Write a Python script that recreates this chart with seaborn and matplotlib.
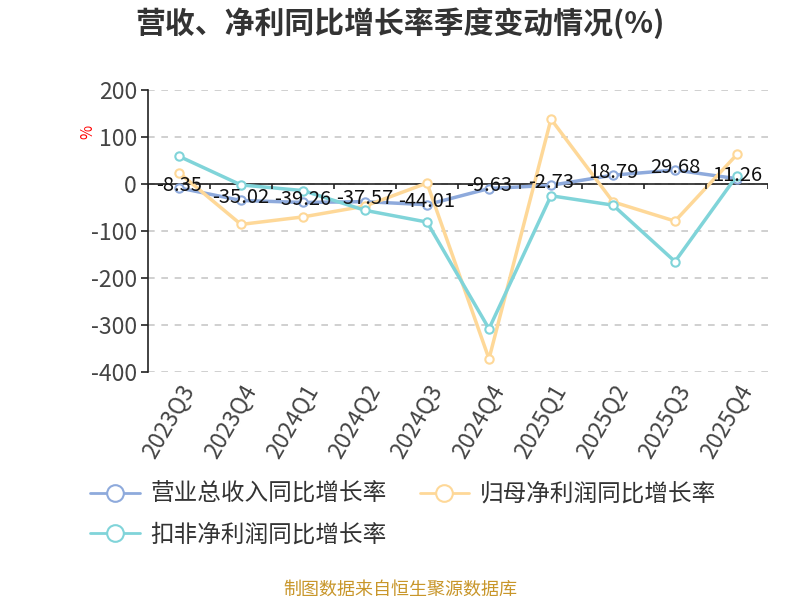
import numpy as np
import pandas as pd
import matplotlib
matplotlib.use('Agg')
import matplotlib.pyplot as plt
import seaborn as sbn
from matplotlib.lines import Line2D

sbn.set_style('white')
plt.rcParams['font.family'] = ['Noto Sans CJK SC', 'DejaVu Sans']
plt.rcParams['axes.unicode_minus'] = False

quarters = ['2023Q3', '2023Q4', '2024Q1', '2024Q2', '2024Q3',
            '2024Q4', '2025Q1', '2025Q2', '2025Q3', '2025Q4']
revenue = [-8.35, -35.02, -39.26, -37.57, -44.01, -9.63, -2.73, 18.79, 29.68, 11.26]
net_profit = [24, -86, -70, -47, 2, -372, 138, -38, -79, 63]
deducted_profit = [59, -2, -14, -56, -81, -308, -25, -45, -165, 18]

names = ['营业总收入同比增长率', '归母净利润同比增长率', '扣非净利润同比增长率']
colors = ['#8eaadc', '#fed898', '#80d4d9']

fig = plt.figure(figsize=(8, 6), dpi=100)
ax = fig.add_axes([0.185, 0.38, 0.775, 0.47])

pos = np.arange(len(quarters))
for vals, name, c in zip([revenue, net_profit, deducted_profit], names, colors):
    df = pd.DataFrame({'x': pos, 'y': vals})
    sbn.lineplot(data=df, x='x', y='y', ax=ax, color=c, linewidth=2.5,
                 marker='o', markersize=6, markerfacecolor='white',
                 markeredgecolor=c, markeredgewidth=1.5, sort=False)

for i, v in enumerate(revenue):
    ax.annotate('{0:.2f}'.format(v), (i, v), xytext=(0, 2), textcoords='offset points',
                ha='center', va='center', fontsize=14.5, color='#111111')

ax.set_xlim(-0.5, len(quarters) - 0.5)
ax.set_ylim(-400, 200)
ax.set_yticks([200, 100, 0, -100, -200, -300, -400])
ax.yaxis.grid(True, linestyle=(0, (4, 4)), color='#c8c8c8', linewidth=1.2)
ax.axhline(0, color='#222222', linewidth=1.2, zorder=1)
ax.vlines(np.arange(len(quarters) + 1) - 0.5, -10, 0, color='#222222', linewidth=1.2)

ax.set_xticks(pos)
ax.set_xticklabels(quarters, rotation=60, ha='right', rotation_mode='anchor',
                   fontsize=16.5, color='#444444')
ax.tick_params(axis='x', length=0, pad=6)
ax.tick_params(axis='y', length=5, width=1.2, color='#222222', labelsize=16.5,
               labelcolor='#444444', left=True, pad=3)
ax.set_xlabel('')
ax.set_ylabel('')
for s in ['top', 'right', 'bottom']:
    ax.spines[s].set_visible(False)
ax.spines['left'].set_color('#222222')
ax.spines['left'].set_linewidth(1.2)

fig.text(0.11, 0.78, '%', color='red', fontsize=11, rotation=90, ha='center', va='center')
fig.text(0.5, 0.962, '营收、净利同比增长率季度变动情况(%)', ha='center', va='center',
         fontsize=21.5, fontweight='bold', color='#333333')

handles = [Line2D([0], [0], color=c, linewidth=2, marker='o', markersize=12,
                  markerfacecolor='white', markeredgecolor=c, markeredgewidth=1.5)
           for c in colors]
order = [0, 2, 1]
fig.legend([handles[k] for k in order], [names[k] for k in order],
           loc='upper left', bbox_to_anchor=(0.1125, 0.195),
           ncol=2, frameon=False, fontsize=17, labelcolor='#333333',
           handlelength=2.1, columnspacing=1.4, handletextpad=0.45, labelspacing=0.75,
           borderaxespad=0, borderpad=0)

fig.text(0.5, 0.018, '制图数据来自恒生聚源数据库', ha='center', va='center',
         fontsize=13, color='#c8962a')

plt.savefig('out.png')
